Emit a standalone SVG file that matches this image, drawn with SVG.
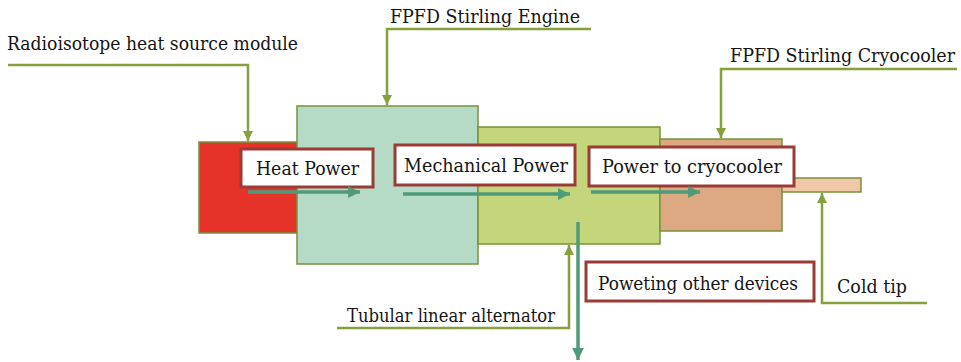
<svg xmlns="http://www.w3.org/2000/svg" width="961" height="362" viewBox="0 0 961 362">
<style>
.blk{stroke:#77933c;stroke-width:1.5}
.lbl{fill:#fff;stroke:#9b3b36;stroke-width:3}
.t{fill:#151515}
.call{fill:none;stroke:#86a03c;stroke-width:2.5}
.flow{fill:none;stroke:#4f9a78;stroke-width:3.5}
</style>
<defs>
<marker id="ca" viewBox="0 0 10 10" refX="10" refY="5" markerWidth="4" markerHeight="4" orient="auto" markerUnits="strokeWidth"><path d="M0,0 L10,5 L0,10 z" fill="#86a03c"/></marker>
<marker id="fa" viewBox="0 0 10 10" refX="10" refY="5" markerWidth="3.4" markerHeight="3.4" orient="auto" markerUnits="strokeWidth"><path d="M0,0 L10,5 L0,10 z" fill="#4f9a78"/></marker>
</defs>
<g id="heat-source"><rect class="blk" x="199" y="142" width="100" height="91" fill="#e5332a"/></g>
<g id="stirling-engine"><rect class="blk" x="297" y="106" width="181" height="158" fill="#b5dbc7"/></g>
<g id="alternator"><rect class="blk" x="478" y="127" width="182" height="117" fill="#c4d57b"/></g>
<g id="cryocooler"><rect class="blk" x="660" y="139" width="122" height="92" fill="#dca983"/></g>
<g id="cold-tip"><rect class="blk" x="782" y="178" width="79" height="14" fill="#f0c8a8"/></g>
<g font-family="'DejaVu Serif', 'Liberation Serif', serif" font-size="18">
<g id="label-heat"><rect class="lbl" x="241" y="149" width="132" height="38"/><text class="t" x="256" y="175" textLength="103" lengthAdjust="spacingAndGlyphs">Heat Power</text></g>
<g id="label-mech"><rect class="lbl" x="395" y="145" width="180" height="40"/><text class="t" x="404" y="172" textLength="164" lengthAdjust="spacingAndGlyphs">Mechanical Power</text></g>
<g id="label-cryo"><rect class="lbl" x="589" y="147" width="205" height="39"/><text class="t" x="602" y="173" textLength="180" lengthAdjust="spacingAndGlyphs">Power to cryocooler</text></g>
<g id="label-other"><rect class="lbl" x="586" y="262" width="228" height="39"/><text class="t" x="598" y="290" textLength="200" lengthAdjust="spacingAndGlyphs">Poweting other devices</text></g>
<g id="captions">
<text class="t" x="7" y="50" textLength="291" lengthAdjust="spacingAndGlyphs">Radioisotope heat source module</text>
<text class="t" x="390" y="23" textLength="190" lengthAdjust="spacingAndGlyphs">FPFD Stirling Engine</text>
<text class="t" x="730" y="62" textLength="225" lengthAdjust="spacingAndGlyphs">FPFD Stirling Cryocooler</text>
<text class="t" x="347" y="322" textLength="208" lengthAdjust="spacingAndGlyphs">Tubular linear alternator</text>
<text class="t" x="837" y="293" textLength="70" lengthAdjust="spacingAndGlyphs">Cold tip</text>
</g>
</g>
<g id="connectors">
<polyline class="call" points="8,65 248,65 248,141" marker-end="url(#ca)"/>
<polyline class="call" points="591,29 387,29 387,105" marker-end="url(#ca)"/>
<polyline class="call" points="957,69 721,69 721,138" marker-end="url(#ca)"/>
<polyline class="call" points="337,328 569,328 569,245" marker-end="url(#ca)"/>
<polyline class="call" points="927,303 822,303 822,193" marker-end="url(#ca)"/>
<line class="flow" x1="248" y1="192" x2="360" y2="192" marker-end="url(#fa)"/>
<line class="flow" x1="403" y1="194" x2="570" y2="194" marker-end="url(#fa)"/>
<line class="flow" x1="591" y1="192" x2="700" y2="192" marker-end="url(#fa)"/>
<line class="flow" x1="578" y1="222" x2="578" y2="360" marker-end="url(#fa)"/>
</g>
</svg>
